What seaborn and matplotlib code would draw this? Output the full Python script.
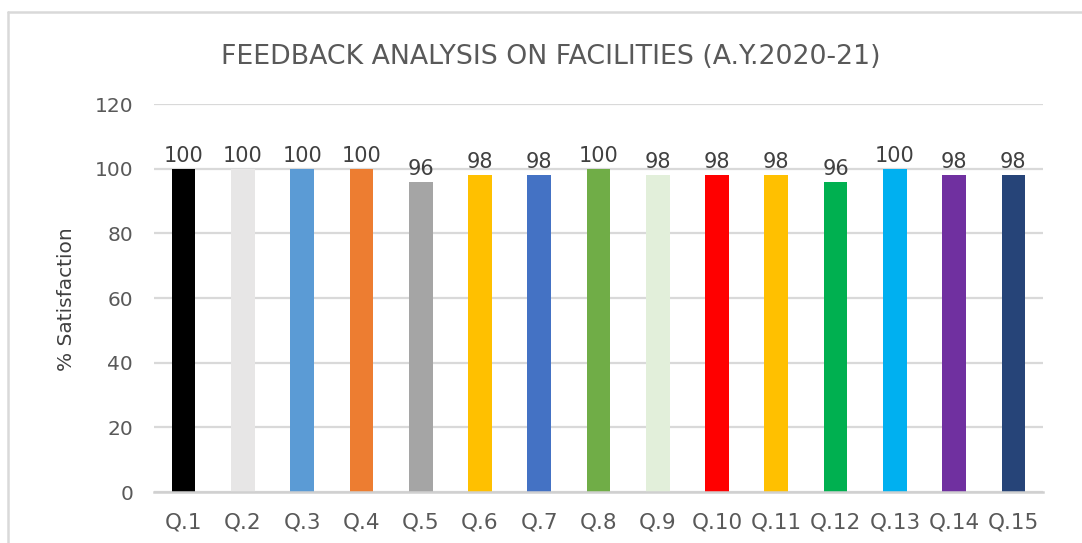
import matplotlib
matplotlib.use("Agg")
import matplotlib.pyplot as plt
import seaborn as sns
import pandas as pd
from matplotlib.lines import Line2D

categories = ["Q.1", "Q.2", "Q.3", "Q.4", "Q.5", "Q.6", "Q.7", "Q.8",
              "Q.9", "Q.10", "Q.11", "Q.12", "Q.13", "Q.14", "Q.15"]
values = [100, 100, 100, 100, 96, 98, 98, 100, 98, 98, 98, 96, 100, 98, 98]
colors = ["#000000", "#e7e6e6", "#5b9bd5", "#ed7d31", "#a5a5a5", "#ffc000",
          "#4472c4", "#70ad47", "#e2efda", "#ff0000", "#ffc000", "#00b050",
          "#00b0f0", "#7030a0", "#264478"]
yticks = [0, 20, 40, 60, 80, 100, 120]
title = "FEEDBACK ANALYSIS ON FACILITIES (A.Y.2020-21)"
ylabel = "% Satisfaction"

sns.set_theme(style="white")
plt.rcParams["font.family"] = ["DejaVu Sans"]

df = pd.DataFrame({"q": categories, "v": values})

fig = plt.figure(figsize=(10.82, 5.43), dpi=100)
ax = fig.add_axes([154 / 1082, 1 - 492 / 543, (1043 - 154) / 1082, (492 - 104) / 543])

sns.barplot(data=df, x="q", y="v", hue="q", palette=colors, legend=False,
            width=0.40, ax=ax, saturation=1, linewidth=0)

ax.set_ylim(0, 120)
ax.set_xlim(-0.5, len(categories) - 0.5)
ax.set_yticks(yticks)
ax.yaxis.grid(True, color="#d9d9d9", linewidth=1.6)
ax.set_axisbelow(True)
for s in ["top", "right", "left"]:
    ax.spines[s].set_visible(False)
ax.spines["bottom"].set_color("#d0d0d0")
ax.spines["bottom"].set_linewidth(1.8)
ax.tick_params(axis="y", length=0, pad=15, labelsize=14.5, labelcolor="#595959")
ax.tick_params(axis="x", length=0, pad=15, labelsize=15.5, labelcolor="#595959")
ax.set_xlabel("")
ax.set_ylabel("")

for cont in ax.containers:
    ax.bar_label(cont, fmt="%g", padding=2, fontsize=15, color="#404040")

fig.text(0.509, 1 - 57 / 543, title, ha="center", va="center",
         fontsize=19.3, color="#595959")
fig.text(67 / 1082, 1 - 299 / 543, ylabel, rotation=90, ha="center",
         va="center", fontsize=14.5, color="#404040")

# chart border (left and top visible, cropped at right/bottom)
bx = 8 / 1082
by = 1 - 12 / 543
fig.add_artist(Line2D([bx, bx], [0, by], transform=fig.transFigure,
                      color="#d9d9d9", linewidth=1.8))
fig.add_artist(Line2D([bx, 1], [by, by], transform=fig.transFigure,
                      color="#d9d9d9", linewidth=1.8))

fig.savefig("out.png", dpi=100)
